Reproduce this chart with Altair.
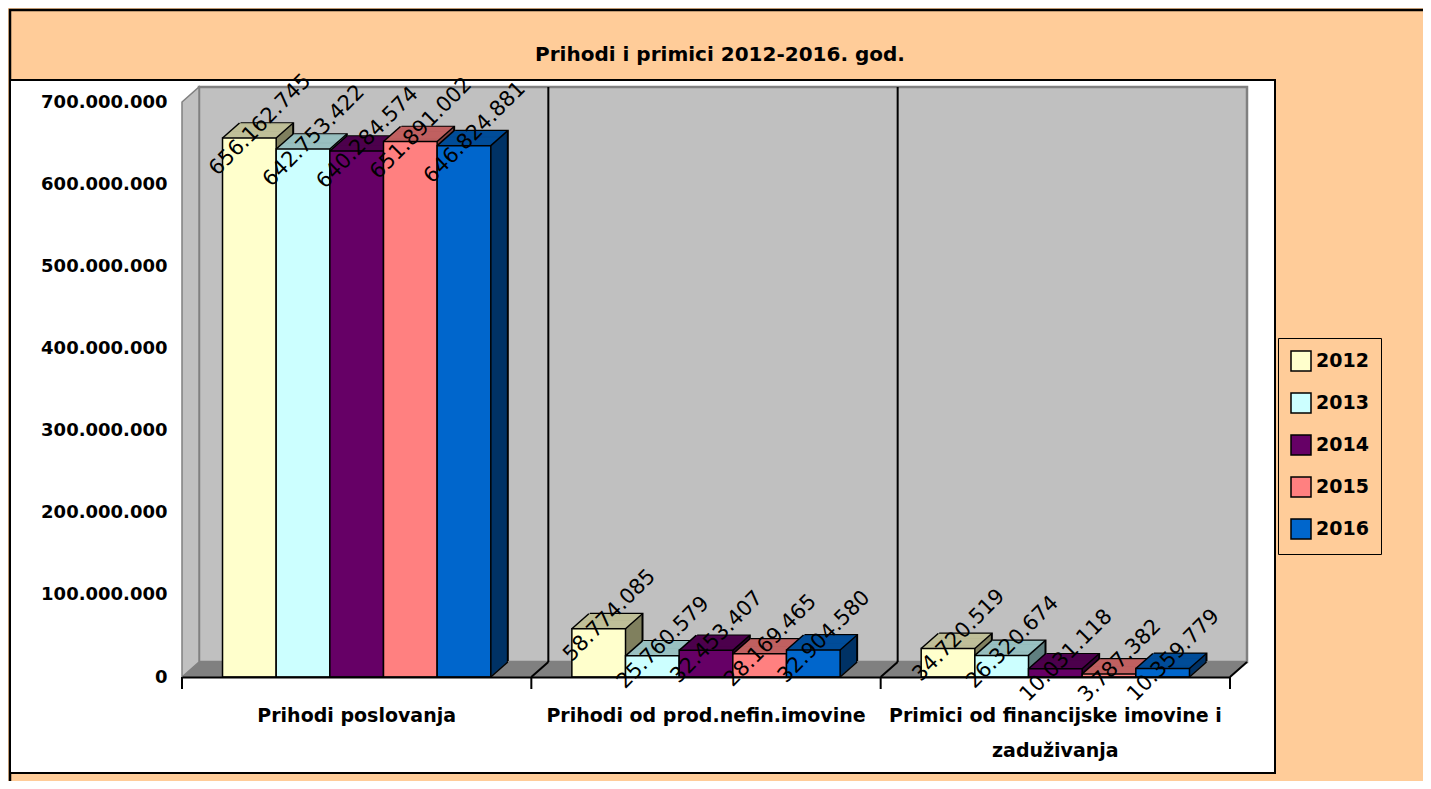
import altair as alt
import pandas as pd

# ---------------- data ----------------
categories = ["Prihodi poslovanja", "Prihodi od prod.nefin.imovine",
              "Primici od financijske imovine i zaduživanja"]
years = ["2012", "2013", "2014", "2015", "2016"]
v2012 = [656162745, 58774085, 34720519]
v2013 = [642753422, 25760579, 26320674]
v2014 = [640284574, 32453407, 10031118]
v2015 = [651891002, 28169465, 3787382]
v2016 = [646824881, 32904580, 10359779]
y_ticks = [0, 100000000, 200000000, 300000000, 400000000, 500000000, 600000000, 700000000]
title_text = "Prihodi i primici 2012-2016. god."

front_colors = ["#FFFFCC", "#CCFFFF", "#660066", "#FF8080", "#0066CC"]
top_colors = ["#BFBF99", "#99C0C0", "#4C004C", "#C06060", "#004C99"]
side_colors = ["#80805F", "#608080", "#330033", "#804040", "#003366"]

series = [v2012, v2013, v2014, v2015, v2016]
rows = []
for yr, vals in zip(years, series):
    for c, v in zip(categories, vals):
        rows.append({"cat": c, "year": yr, "v": v, "zero": 0,
                     "label": f"{v:,}".replace(",", ".")})
df = pd.DataFrame(rows)

# ---------------- layout ----------------
W, H = 1048, 575
PI, PO = 0.232, 0.116
step = W / (3 - PI + 2 * PO)
bw = step * (1 - PI) / 5.0
half_gap = PI * step / 2
D = 17          # depth in x (px)
DY = 15         # depth in y (px)
R = DY / D
PEACH = "#FFCC99"
FONT = "DejaVu Sans"

xo = alt.Scale(domain=years, paddingInner=0, paddingOuter=0)
ys = alt.Scale(domain=[0, 700000000], nice=False, zero=True)
XO = alt.XOffset("year:N", scale=xo, sort=years)


def X(shift=0, axis=None, **kw):
    sc = alt.Scale(domain=categories, paddingInner=PI, paddingOuter=PO,
                   range=[shift, W + shift])
    return alt.X("cat:N", scale=sc, sort=categories, axis=axis, **kw)


def Y(f="v", axis=None):
    return alt.Y(f"{f}:Q", scale=ys, axis=axis)


one = pd.DataFrame({"a": [0]})

# ---------------- decoration layer (pixel space) ----------------
outer = alt.Chart(one).mark_rect(fill=PEACH, stroke="black", strokeWidth=2.5).encode(
    x=alt.value(-172), x2=alt.value(W + 300), y=alt.value(-92), y2=alt.value(H + 200))
panel = alt.Chart(one).mark_rect(fill="white", stroke="black", strokeWidth=2).encode(
    x=alt.value(-172), x2=alt.value(1093), y=alt.value(-22), y2=alt.value(671))
title = alt.Chart(one).mark_text(text=title_text, font=FONT, fontSize=20, fontWeight="bold",
                                 align="center", baseline="middle", color="black").encode(
    x=alt.value(538), y=alt.value(-47))
wall = alt.Chart(one).mark_rect(fill="#C0C0C0", stroke="#808080", strokeWidth=2.5).encode(
    x=alt.value(D), x2=alt.value(W + D), y=alt.value(-DY), y2=alt.value(H - DY))
left_wall_df = pd.DataFrame({"px": [0, D], "py": [0, -DY], "py2": [H, H - DY]})
left_wall = alt.Chart(left_wall_df).mark_area(color="#C0C0C0", stroke="#808080", strokeWidth=1.5).encode(
    x=alt.X("px:Q", scale=None, axis=None), y=alt.Y("py:Q", scale=None, axis=None),
    y2=alt.Y2("py2:Q"))
floor_df = pd.DataFrame({"px": [0, D, W, W + D], "py": [H, H - DY, H - DY, H - DY],
                         "py2": [H, H, H, H - DY]})
floor = alt.Chart(floor_df).mark_area(color="#808080").encode(
    x=alt.X("px:Q", scale=None, axis=None), y=alt.Y("py:Q", scale=None, axis=None),
    y2=alt.Y2("py2:Q"))
deco = alt.layer(outer, panel, title, wall, left_wall, floor)

# ---------------- bars layer ----------------
x_axis = alt.Axis(title=None, labelAngle=0, labelFont=FONT, labelFontSize=19,
                  labelFontWeight="bold", labelColor="black", ticks=False, tickSize=0,
                  domainColor="black", domainWidth=2, labelPadding=29,
                  labelLineHeight=35, labelLimit=0, labelBaseline="top", zindex=1,
                  labelExpr="datum.label == 'Primici od financijske imovine i zaduživanja' ? ['Primici od financijske imovine i', 'zaduživanja'] : datum.label")
y_axis = alt.Axis(title=None, values=y_ticks, labelFont=FONT, labelFontSize=18,
                  labelFontWeight="bold", labelColor="black", domain=False,
                  ticks=False, tickSize=0, grid=False, labelPadding=15, zindex=1,
                  labelExpr="replace(format(datum.value, ',d'), /,/g, '.')")

axis_layer = alt.Chart(df).mark_bar(opacity=0).encode(
    x=X(axis=x_axis), xOffset=XO, y=Y(axis=y_axis))

cdf = pd.DataFrame({"cat": categories})
bdf = pd.DataFrame({"cat": categories[1:]})
ldf = pd.DataFrame({"cat": categories[-1:]})
grid_v = alt.Chart(bdf).mark_rule(color="black", strokeWidth=2, xOffset=D - half_gap).encode(
    x=X(bandPosition=0), y=alt.value(-DY), y2=alt.value(H - DY))
grid_d = alt.Chart(bdf).mark_rule(color="black", strokeWidth=2, xOffset=-half_gap,
                                  x2Offset=D - half_gap).encode(
    x=X(bandPosition=0), x2=alt.X2("cat:N", bandPosition=0), y=alt.value(H), y2=alt.value(H - DY))
ticks_a = alt.Chart(cdf).mark_rule(color="black", strokeWidth=2, xOffset=-half_gap).encode(
    x=X(bandPosition=0), y=alt.value(H), y2=alt.value(H + 12))
ticks_b = alt.Chart(ldf).mark_rule(color="black", strokeWidth=2, xOffset=half_gap).encode(
    x=X(bandPosition=1), y=alt.value(H), y2=alt.value(H + 12))
end_d = alt.Chart(ldf).mark_rule(color="black", strokeWidth=2, xOffset=half_gap,
                                 x2Offset=half_gap + D).encode(
    x=X(bandPosition=1), x2=alt.X2("cat:N", bandPosition=1), y=alt.value(H), y2=alt.value(H - DY))

layers = [axis_layer, grid_v, grid_d, ticks_a, ticks_b, end_d]
for i, yr in enumerate(years):
    b = alt.Chart(df).transform_filter(alt.datum.year == yr)
    # back outline (black)
    for k in [D + 1, D]:
        layers.append(b.mark_bar(color="black", yOffset=-k * R, y2Offset=-k * R).encode(
            x=X(k), xOffset=XO, y=Y(), y2=alt.Y2("zero:Q")))
    # side / silhouette
    for k in range(D - 1, 0, -1):
        layers.append(b.mark_bar(color=side_colors[i], yOffset=-k * R, y2Offset=-k * R).encode(
            x=X(k), xOffset=XO, y=Y(), y2=alt.Y2("zero:Q")))
    # top face
    for k in range(D - 1, 0, -1):
        layers.append(b.mark_bar(color=top_colors[i], yOffset=-k * R - 0.6,
                                 y2Offset=-(k - 1) * R).encode(
            x=X(k), xOffset=XO, y=Y(), y2=alt.Y2("v:Q")))
    # front face
    layers.append(b.mark_bar(stroke="black", strokeWidth=1.5).encode(
        x=X(), xOffset=XO, y=Y(), y2=alt.Y2("zero:Q"),
        color=alt.Color("year:N", scale=alt.Scale(domain=years, range=front_colors),
                        legend=alt.Legend(title=None))))
    # diagonal edges (top-left, top-right, bottom-right)
    for c, fld in [(0, "v"), (bw, "v"), (bw, "zero")]:
        off = i * bw + c
        layers.append(b.mark_rule(color="black", strokeWidth=1.5, xOffset=off,
                                  x2Offset=off + D, y2Offset=-DY).encode(
            x=X(bandPosition=0), x2=alt.X2("cat:N", bandPosition=0),
            y=Y(fld), y2=alt.Y2(f"{fld}:Q")))

labels = alt.Chart(df).mark_text(angle=315, font=FONT, fontSize=21, color="black",
                                 align="center", baseline="middle", yOffset=-13).encode(
    x=X(11), xOffset=XO, y=Y(), text="label:N")
layers.append(labels)

bars = alt.layer(*layers).resolve_scale(x="independent", y="independent")

chart = alt.layer(deco, bars).resolve_scale(x="independent", y="independent").properties(
    width=W, height=H, background=PEACH,
    padding={"left": 174, "top": 94, "right": 193, "bottom": 104},
    autosize=alt.AutoSizeParams(type="none"),
).configure_view(stroke=None).configure_legend(
    orient="none", legendX=1096, legendY=236, strokeColor="black", fillColor=PEACH,
    padding=12, symbolType="square", symbolSize=400, symbolStrokeColor="black",
    symbolStrokeWidth=1.5, labelFont=FONT, labelFontSize=19, labelFontWeight="bold",
    labelColor="black", rowPadding=16, labelOffset=4,
)

chart.save("out.html", embed_options={"renderer": "svg", "actions": False})
